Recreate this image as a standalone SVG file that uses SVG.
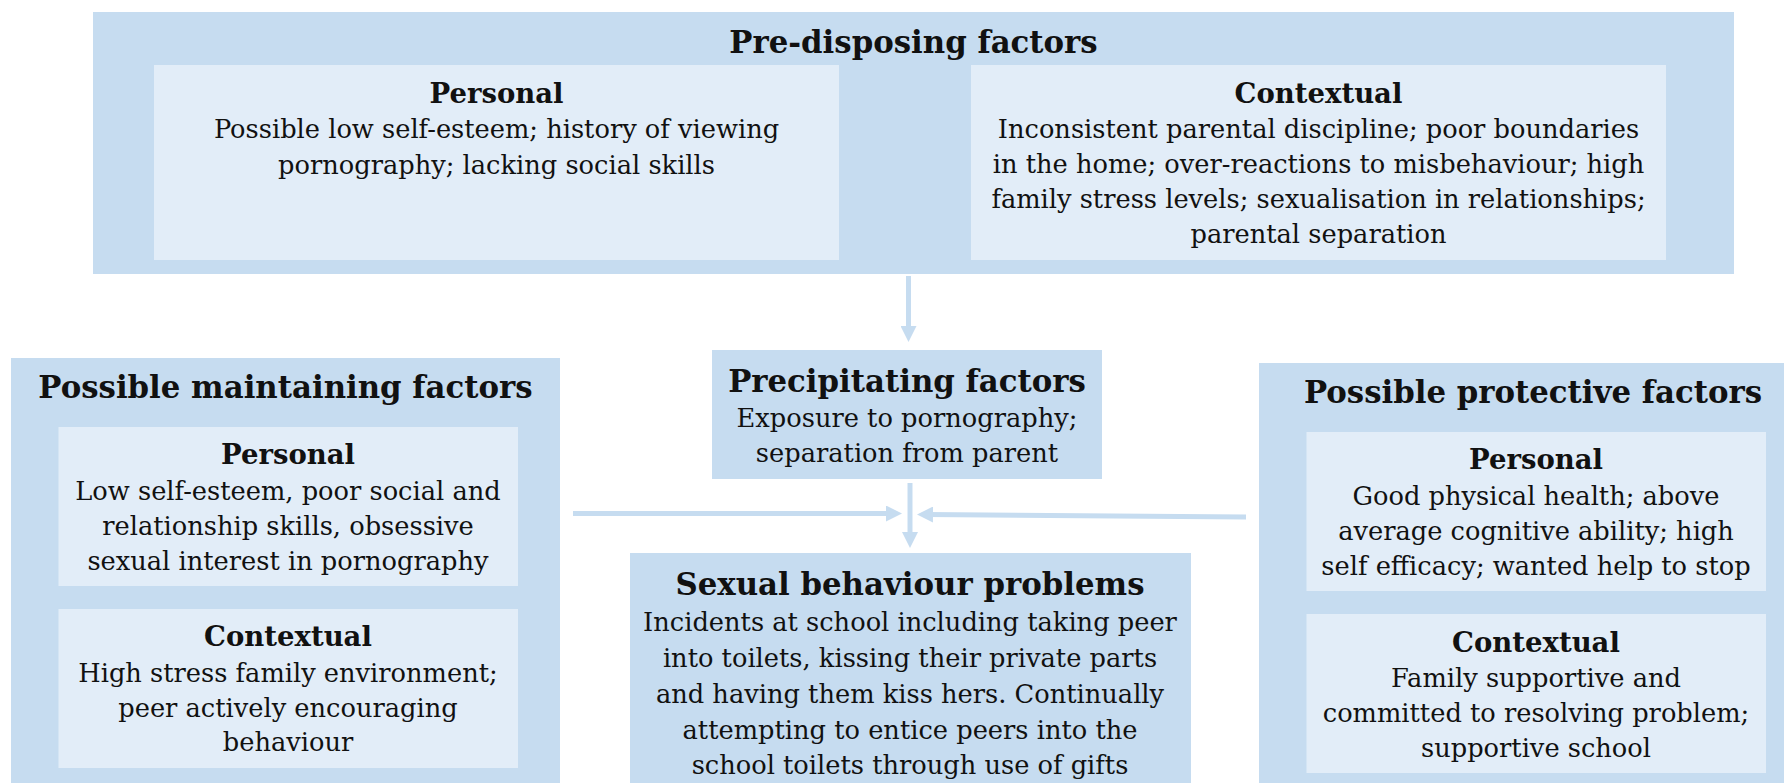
<svg xmlns="http://www.w3.org/2000/svg" width="1789" height="783" viewBox="0 0 1789 783">
<defs>
<style>
.outer{fill:#c6dcf0}
.inner{fill:#e2edf8}
text{font-family:"DejaVu Serif","Liberation Serif",serif;fill:#111;text-anchor:middle}
.t{font-size:30.8px;font-weight:bold}
.h{font-size:27.5px;font-weight:bold}
.b{font-size:25.7px}
.conn{stroke:#c6dcf0;stroke-width:5;fill:none;marker-end:url(#ah)}
</style>
<marker id="ah" markerUnits="userSpaceOnUse" markerWidth="16" markerHeight="16" refX="6" refY="8" orient="auto">
<path d="M0,0 L16,8 L0,16 z" fill="#c6dcf0"/>
</marker>
</defs>
<rect width="1789" height="783" fill="#fff"/>

<g id="predisposing">
<rect class="outer" x="93" y="12" width="1641" height="262"/>
<text class="t" x="913.5" y="53">Pre-disposing factors</text>
<rect class="inner" x="154" y="65" width="685" height="195"/>
<text class="h" x="496.5" y="102.5">Personal</text>
<text class="b" x="496.5" y="138">Possible low self-esteem; history of viewing</text>
<text class="b" x="496.5" y="174">pornography; lacking social skills</text>
<rect class="inner" x="971" y="65" width="695" height="195"/>
<text class="h" x="1318.5" y="102.5">Contextual</text>
<text class="b" x="1318.5" y="138">Inconsistent parental discipline; poor boundaries</text>
<text class="b" x="1318.5" y="173">in the home; over-reactions to misbehaviour; high</text>
<text class="b" x="1318.5" y="208">family stress levels; sexualisation in relationships;</text>
<text class="b" x="1318.5" y="243">parental separation</text>
</g>

<g id="precipitating">
<rect class="outer" x="712" y="350" width="390" height="129"/>
<text class="t" x="907" y="392">Precipitating factors</text>
<text class="b" x="907" y="427">Exposure to pornography;</text>
<text class="b" x="907" y="462">separation from parent</text>
</g>

<g id="problems">
<rect class="outer" x="630" y="553" width="561" height="240"/>
<text class="t" x="910" y="595">Sexual behaviour problems</text>
<text class="b" x="910" y="631">Incidents at school including taking peer</text>
<text class="b" x="910" y="667">into toilets, kissing their private parts</text>
<text class="b" x="910" y="703">and having them kiss hers. Continually</text>
<text class="b" x="910" y="739">attempting to entice peers into the</text>
<text class="b" x="910" y="774">school toilets through use of gifts</text>
</g>

<g id="maintaining">
<rect class="outer" x="11" y="358" width="549" height="435"/>
<text class="t" x="285.5" y="398">Possible maintaining factors</text>
<rect class="inner" x="58.5" y="427" width="459.5" height="159"/>
<text class="h" x="288" y="464">Personal</text>
<text class="b" x="288" y="500">Low self-esteem, poor social and</text>
<text class="b" x="288" y="535">relationship skills, obsessive</text>
<text class="b" x="288" y="570">sexual interest in pornography</text>
<rect class="inner" x="58.5" y="609" width="459.5" height="159"/>
<text class="h" x="288" y="646">Contextual</text>
<text class="b" x="288" y="681.5">High stress family environment;</text>
<text class="b" x="288" y="716.5">peer actively encouraging</text>
<text class="b" x="288" y="751">behaviour</text>
</g>

<g id="protective">
<rect class="outer" x="1259" y="363" width="525" height="430"/>
<text class="t" x="1533" y="403">Possible protective factors</text>
<rect class="inner" x="1306.5" y="432" width="459.5" height="159"/>
<text class="h" x="1536" y="469">Personal</text>
<text class="b" x="1536" y="505">Good physical health; above</text>
<text class="b" x="1536" y="540">average cognitive ability; high</text>
<text class="b" x="1536" y="575">self efficacy; wanted help to stop</text>
<rect class="inner" x="1306.5" y="614" width="459.5" height="159"/>
<text class="h" x="1536" y="652">Contextual</text>
<text class="b" x="1536" y="687">Family supportive and</text>
<text class="b" x="1536" y="722">committed to resolving problem;</text>
<text class="b" x="1536" y="757">supportive school</text>
</g>

<g id="connectors">
<line class="conn" x1="908.5" y1="276" x2="908.5" y2="332"/>
<line class="conn" x1="910" y1="483" x2="910" y2="538"/>
<line class="conn" x1="573" y1="513.5" x2="892" y2="513.5"/>
<line class="conn" x1="1246" y1="517" x2="927" y2="514.5"/>
</g>
</svg>
